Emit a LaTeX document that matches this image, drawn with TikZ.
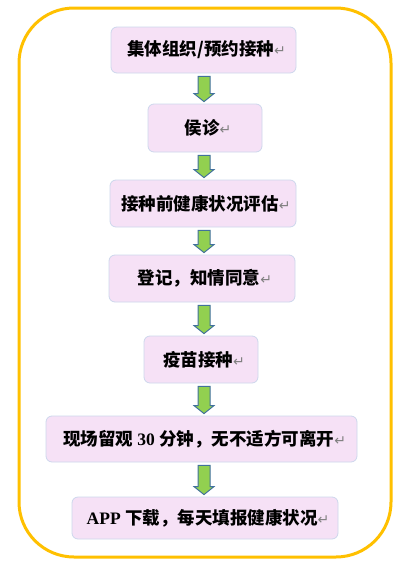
\documentclass[tikz,border=0pt]{standalone}
\usepackage{fontspec}
\setmainfont{Liberation Serif}
\newfontfamily\cjk{Noto Sans CJK SC}
\newfontfamily\retfont{DejaVu Sans}
\usetikzlibrary{calc}
\definecolor{frameorange}{HTML}{FFC000}
\definecolor{boxpink}{HTML}{F6E1F6}
\definecolor{boxedge}{HTML}{CDD7EC}
\definecolor{arrowgreen}{HTML}{92D050}
\definecolor{arrowedge}{HTML}{41719C}
\newcommand{\pmark}{{\retfont\mdseries\color{gray}\fontsize{14}{14}\selectfont ↵}}

\begin{document}
\begin{tikzpicture}[x=1pt, y=-1pt, font=\bfseries\fontsize{17.5}{19}\selectfont,
	stepbox/.style={draw=boxedge, fill=boxpink, rounded corners=6pt, line width=0.8pt, inner sep=0pt, align=center},
	flowarrow/.style={draw=arrowedge, fill=arrowgreen, line width=1pt, line join=miter}]
	\useasboundingbox (0,0) rectangle (412,568);
	\draw[color=frameorange, line width=3pt, rounded corners=55pt] (19,8) rectangle (391,557);
	% the seven steps
	\node[stepbox, minimum width=185pt, minimum height=46pt] (book) at (203.5,50) {\hspace{6pt}{\cjk 集体组织/预约接种}\pmark};
	\node[stepbox, minimum width=114pt, minimum height=48pt] (wait) at (205,128) {\hspace{6pt}{\cjk 侯诊}\pmark};
	\node[stepbox, minimum width=186pt, minimum height=47pt] (check) at (203,203.5) {\hspace{6pt}{\cjk 接种前健康状况评估}\pmark};
	\node[stepbox, minimum width=186pt, minimum height=47pt] (sign) at (202,278.5) {\hspace{6pt}{\cjk 登记，知情同意}\pmark};
	\node[stepbox, minimum width=114pt, minimum height=47pt] (inject) at (201,359.5) {\hspace{6pt}{\cjk 疫苗接种}\pmark};
	\node[stepbox, minimum width=311pt, minimum height=46pt] (observe) at (201.5,439) {\hspace{6pt}{\cjk 现场留观} 30 {\cjk 分钟，无不适方可离开}\pmark};
	\node[stepbox, minimum width=266pt, minimum height=42pt] (app) at (205,518) {\hspace{6pt}APP {\cjk 下载，每天填报健康状况}\pmark};
	% block arrows between the steps
	\coordinate (col) at (204,0);
	\foreach \a/\b in {book/wait, wait/check, check/sign, sign/inject, inject/observe, observe/app}
		\draw[flowarrow] let \p1=(\a.south), \p2=(\b.north), \p3=(col) in
			(\x3-6pt,\y1-3pt) -- (\x3+6pt,\y1-3pt) -- (\x3+6pt,\y2+10pt) -- (\x3+10pt,\y2+10pt)
			-- (\x3,\y2+2pt) -- (\x3-10pt,\y2+10pt) -- (\x3-6pt,\y2+10pt) -- cycle;
\end{tikzpicture}
\end{document}
